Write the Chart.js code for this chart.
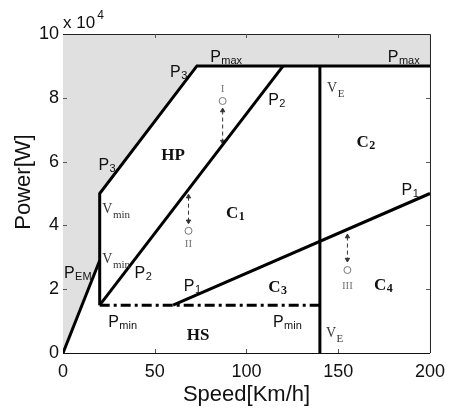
<!DOCTYPE html>
<html>
<head>
<meta charset="utf-8">
<script src="https://cdn.jsdelivr.net/npm/chart.js@4/dist/chart.umd.min.js"></script>
<style>
  html, body { margin: 0; padding: 0; background: #fff; }
  #wrap { width: 453px; height: 409px; }
</style>
</head>
<body>
<div id="wrap"><canvas id="myChart" width="453" height="409"></canvas></div>
<script>
// boundary lines of the operating map (speed km/h, power W)
const pemSpeed = [0, 20];
const pemPower = [0, 29000];
const limitSpeed = [20, 20, 73, 200];
const limitPower = [15000, 50000, 90000, 90000];
const p2Speed = [20, 120];
const p2Power = [15000, 90000];
const p1Speed = [60, 200];
const p1Power = [15000, 50000];
const veSpeed = [140, 140];
const vePower = [0, 90000];
const pminSpeed = [20, 140];
const pminPower = [15000, 15000];
const shadeSpeed = [0, 20, 20, 73, 200];
const shadePower = [0, 29000, 50000, 90000, 90000];

// operating points I, II, III and their arrows
const opNames = ['I', 'II', 'III'];
const opSpeed = [87, 68.4, 155];
const opPower = [79000, 38300, 26000];
const opLabelPower = [81800, 33200, 20100];
const arrowTop = [76000, 49000, 36500];
const arrowBottom = [66300, 41300, 29300];

// region / curve labels
const labelText = ['P', 'P', 'P', 'P', 'HP', 'P', 'V', 'C', 'P', 'V', 'V', 'P', 'P', 'P', 'P', 'HS', 'C', 'C', 'C', 'P', 'V'];
const labelSub = ['max', 'max', '3', '3', '', '2', 'E', '2', '1', 'min', 'min', 'EM', '2', '1', 'min', '', '1', '3', '4', 'min', 'E'];
const labelSpeed = [80.2, 177, 58.3, 19.3, 53.5, 111.8, 143.9, 159.9, 184.5, 21.4, 21.4, 0.5, 39, 65.8, 24.6, 67.4, 88.8, 111.8, 169.5, 114.4, 143.3];
const labelPower = [91200, 91200, 86500, 57400, 60500, 77700, 81800, 64600, 49500, 43900, 28200, 23500, 23500, 19400, 8200, 4100, 42300, 19100, 19800, 8200, 5000];
const labelKind = ['sans', 'sans', 'sans', 'sans', 'bold', 'sans', 'serif', 'bold', 'sans', 'serif', 'serif', 'sans', 'sans', 'sans', 'sans', 'bold', 'bold', 'bold', 'bold', 'sans', 'serif'];

const xTicks = [0, 50, 100, 150, 200];
const yTicks = [0, 20000, 40000, 60000, 80000, 100000];

const SANS = '"Liberation Sans", Arial, sans-serif';
const SERIF = '"Liberation Serif", "Times New Roman", serif';
const kinds = {
    sans:  { main: '16px ' + SANS, sub: '11px ' + SANS, shift: 2, color: '#111' },
    serif: { main: '14px ' + SERIF, sub: '11px ' + SERIF, shift: 5, color: '#333' },
    bold:  { main: 'bold 17px ' + SERIF, sub: 'bold 12px ' + SERIF, shift: 2, color: '#111' }
};

function pts(xs, ys) {
    return xs.map((x, i) => ({ x: x, y: ys[i] }));
}

function blackLine(xs, ys, extra) {
    return Object.assign({
        data: pts(xs, ys),
        borderColor: '#000',
        borderWidth: 3,
        pointRadius: 0,
        fill: false,
        tension: 0
    }, extra || {});
}

const arrowSets = opNames.map((n, i) => ({
    data: [{ x: opSpeed[i], y: arrowTop[i] }, { x: opSpeed[i], y: arrowBottom[i] }],
    borderColor: '#333',
    borderWidth: 1,
    borderDash: [4, 3],
    pointStyle: 'triangle',
    pointRotation: [0, 180],
    pointRadius: 2.5,
    pointBackgroundColor: '#333',
    pointBorderColor: '#333',
    pointBorderWidth: 1,
    fill: false
}));

const labelsPlugin = {
    id: 'mapLabels',
    afterDatasetsDraw(chart) {
        const ctx = chart.ctx;
        const xs = chart.scales.x, ys = chart.scales.y;
        const area = chart.chartArea;
        ctx.save();

        // frame top / right
        ctx.strokeStyle = '#222';
        ctx.lineWidth = 1;
        ctx.beginPath();
        ctx.moveTo(area.left, area.top + 0.5);
        ctx.lineTo(area.right + 0.5, area.top + 0.5);
        ctx.lineTo(area.right + 0.5, area.bottom);
        ctx.stroke();

        // inward ticks
        ctx.strokeStyle = '#555';
        ctx.beginPath();
        xTicks.slice(1, -1).forEach(v => {
            const px = Math.round(xs.getPixelForValue(v)) + 0.5;
            ctx.moveTo(px, area.bottom); ctx.lineTo(px, area.bottom - 4);
            ctx.moveTo(px, area.top); ctx.lineTo(px, area.top + 4);
        });
        yTicks.slice(1, -1).forEach(v => {
            const py = Math.round(ys.getPixelForValue(v)) + 0.5;
            ctx.moveTo(area.left, py); ctx.lineTo(area.left + 4, py);
            ctx.moveTo(area.right, py); ctx.lineTo(area.right - 4, py);
        });
        ctx.stroke();

        // curve and region labels
        ctx.textAlign = 'left';
        ctx.textBaseline = 'alphabetic';
        labelText.forEach((t, i) => {
            const k = kinds[labelKind[i]];
            const px = xs.getPixelForValue(labelSpeed[i]);
            const py = ys.getPixelForValue(labelPower[i]);
            ctx.fillStyle = k.color;
            ctx.font = k.main;
            ctx.fillText(t, px, py);
            const w = ctx.measureText(t).width;
            if (labelSub[i]) {
                ctx.font = k.sub;
                ctx.fillText(labelSub[i], px + w + 0.5, py + k.shift);
            }
        });

        // operating point names
        ctx.fillStyle = '#777';
        ctx.font = '11px ' + SERIF;
        ctx.textAlign = 'center';
        opNames.forEach((n, i) => {
            ctx.fillText(n, xs.getPixelForValue(opSpeed[i]), ys.getPixelForValue(opLabelPower[i]));
        });

        // exponent and y title
        ctx.fillStyle = '#111';
        ctx.textAlign = 'left';
        ctx.font = '17px ' + SANS;
        ctx.fillText('x 10', area.left, area.top - 6);
        const ew = ctx.measureText('x 10').width;
        ctx.font = '12px ' + SANS;
        ctx.fillText('4', area.left + ew + 2, area.top - 15);

        ctx.translate(30, 182);
        ctx.rotate(-Math.PI / 2);
        ctx.textAlign = 'center';
        ctx.font = '22px ' + SANS;
        ctx.fillText('Power[W]', 0, 0);
        ctx.restore();
    }
};

const ctx = document.getElementById('myChart');
const chart = new Chart(ctx, {
    type: 'line',
    data: {
        datasets: [
            blackLine(pemSpeed, pemPower),
            blackLine(limitSpeed, limitPower),
            blackLine(p2Speed, p2Power),
            blackLine(p1Speed, p1Power),
            blackLine(veSpeed, vePower),
            blackLine(pminSpeed, pminPower, { borderDash: [10, 4, 3, 4], borderCapStyle: 'butt' }),
            ...arrowSets,
            {
                data: pts(opSpeed, opPower),
                showLine: false,
                pointRadius: 3.5,
                pointBorderWidth: 1,
                pointBorderColor: '#777',
                pointBackgroundColor: '#fff'
            },
            {
                data: pts(shadeSpeed, shadePower),
                borderWidth: 0,
                pointRadius: 0,
                backgroundColor: '#e0e0e0',
                fill: 'end'
            }
        ]
    },
    options: {
        responsive: false,
        animation: false,
        layout: { padding: { left: 0, right: 16, top: 34, bottom: 0 } },
        plugins: {
            legend: { display: false },
            tooltip: { enabled: false }
        },
        scales: {
            x: {
                type: 'linear',
                min: 0,
                max: 200,
                afterFit: s => { s.height = 56; },
                afterBuildTicks: s => { s.ticks = xTicks.map(v => ({ value: v })); },
                grid: { display: false, drawTicks: false },
                border: { display: true, color: '#111', width: 1 },
                ticks: { color: '#111', padding: 8, font: { family: SANS, size: 18 } },
                title: { display: true, text: 'Speed[Km/h]', color: '#111', padding: { top: 0, bottom: 1 }, font: { family: SANS, size: 22 } }
            },
            y: {
                type: 'linear',
                min: 0,
                max: 100000,
                afterFit: s => { s.width = 63; },
                afterBuildTicks: s => { s.ticks = yTicks.map(v => ({ value: v })); },
                grid: { display: false, drawTicks: false },
                border: { display: true, color: '#111', width: 1 },
                ticks: { color: '#111', padding: 4, font: { family: SANS, size: 18 }, callback: v => v / 10000 }
            }
        }
    },
    plugins: [labelsPlugin]
});
</script>
</body>
</html>
